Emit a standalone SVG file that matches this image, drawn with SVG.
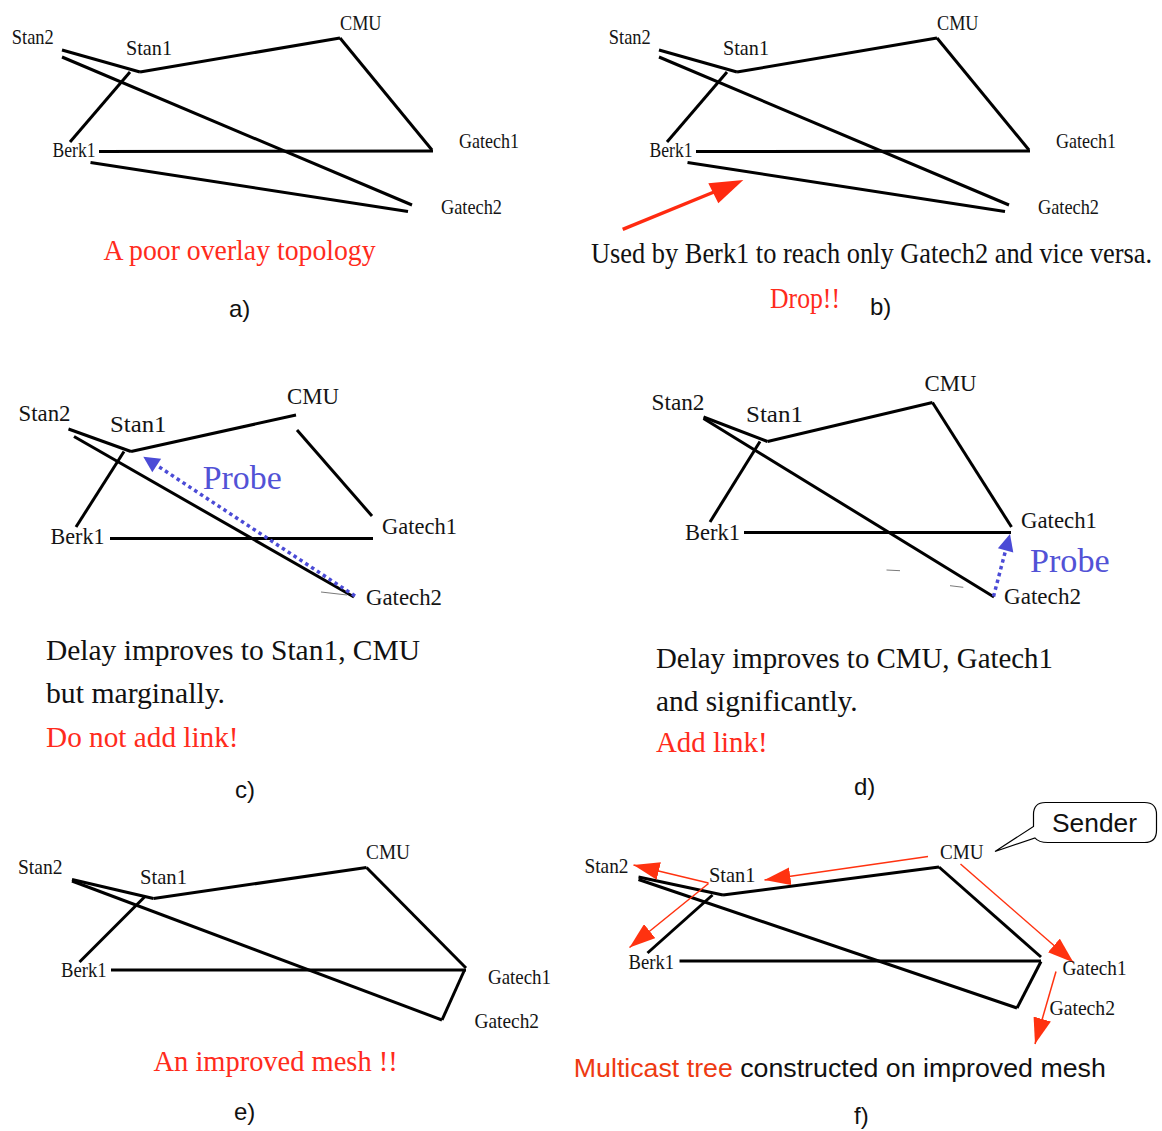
<svg xmlns="http://www.w3.org/2000/svg" width="1162" height="1131" viewBox="0 0 1162 1131">
  <style>
    .lbl { font-family: "Liberation Serif", "Times New Roman", serif; fill: #141414; }
    .f20 { font-size: 21px; }
    .f21 { font-size: 22px; }
    .f22 { font-size: 23px; }
    .cap { font-family: "Liberation Serif", "Times New Roman", serif; font-size: 29px; fill: #111; }
    .red { fill: #ff2b1c; }
    .tag { font-family: "Liberation Sans", Arial, sans-serif; font-size: 24px; fill: #111; }
    .sans { font-family: "Liberation Sans", Arial, sans-serif; fill: #111; }
    .probe { font-family: "Liberation Serif", "Times New Roman", serif; font-size: 33px; fill: #5252d6; }
    .edge { stroke: #000; stroke-width: 3; fill: none; }
    .dots { stroke: #4b4bd6; stroke-width: 3.5; stroke-dasharray: 3.5 3.5; fill: none; }
    .head-blue { fill: #4b4bd6; }
    .smudge { stroke: #7a7a7a; stroke-width: 1; fill: none; }
    .tree { stroke: #ff3210; stroke-width: 1.5; fill: none; marker-end: url(#treeHead); }
  </style>
  <defs>
    <marker id="treeHead" viewBox="0 0 26 18" refX="26" refY="9" markerWidth="26" markerHeight="18" markerUnits="userSpaceOnUse" orient="auto">
      <path d="M0,0 L26,9 L0,18 Z" fill="#ff3210"/>
    </marker>
  </defs>
  <rect width="1162" height="1131" fill="#fff"/>

  <!-- ===== a) poor overlay topology ===== -->
  <g id="panel-a">
    <g id="a-edges">
      <path class="edge" d="M62,50 L140,72"/>
      <path class="edge" d="M62,57 L412,205"/>
      <path class="edge" d="M140,72 L340,38"/>
      <path class="edge" d="M340,38 L432,150"/>
      <path class="edge" d="M99,151.5 L433,151"/>
      <path class="edge" d="M90.5,162.5 L408,211.5"/>
      <path class="edge" d="M130,72 L70,142"/>
    </g>
    <g id="a-stan2"><text class="lbl f21" x="11.8" y="44" textLength="42" lengthAdjust="spacingAndGlyphs">Stan2</text></g>
    <g id="a-stan1"><text class="lbl f21" x="126" y="55" textLength="46" lengthAdjust="spacingAndGlyphs">Stan1</text></g>
    <g id="a-cmu"><text class="lbl f21" x="340" y="29.5" textLength="41.5" lengthAdjust="spacingAndGlyphs">CMU</text></g>
    <g id="a-gatech1"><text class="lbl f21" x="459" y="147.5" textLength="60" lengthAdjust="spacingAndGlyphs">Gatech1</text></g>
    <g id="a-berk1"><text class="lbl f21" x="52.5" y="157" textLength="43" lengthAdjust="spacingAndGlyphs">Berk1</text></g>
    <g id="a-gatech2"><text class="lbl f21" x="441" y="213.5" textLength="61" lengthAdjust="spacingAndGlyphs">Gatech2</text></g>
    <text class="cap red" font-size="31" x="103.6" y="260" textLength="272" lengthAdjust="spacingAndGlyphs">A poor overlay topology</text>
    <text class="tag" x="229" y="317">a)</text>
  </g>

  <!-- ===== b) link to drop ===== -->
  <g id="panel-b">
    <g id="b-edges" transform="translate(597,0)">
      <path class="edge" d="M62,50 L140,72"/>
      <path class="edge" d="M62,57 L412,205"/>
      <path class="edge" d="M140,72 L340,38"/>
      <path class="edge" d="M340,38 L432,150"/>
      <path class="edge" d="M99,151.5 L433,151"/>
      <path class="edge" d="M90.5,162.5 L408,211.5"/>
      <path class="edge" d="M130,72 L70,142"/>
    </g>
    <g id="b-pointer">
      <path d="M622.7,229.3 L714,192" stroke="#ff2a10" stroke-width="3.5" fill="none"/>
      <polygon points="743.3,180 708.3,183.3 718.3,203.3" fill="#ff2a10"/>
    </g>
    <g id="b-stan2"><text class="lbl f21" x="608.8" y="44" textLength="42" lengthAdjust="spacingAndGlyphs">Stan2</text></g>
    <g id="b-stan1"><text class="lbl f21" x="723" y="55" textLength="46" lengthAdjust="spacingAndGlyphs">Stan1</text></g>
    <g id="b-cmu"><text class="lbl f21" x="937" y="29.5" textLength="41.5" lengthAdjust="spacingAndGlyphs">CMU</text></g>
    <g id="b-gatech1"><text class="lbl f21" x="1056" y="147.5" textLength="60" lengthAdjust="spacingAndGlyphs">Gatech1</text></g>
    <g id="b-berk1"><text class="lbl f21" x="649.5" y="157" textLength="43" lengthAdjust="spacingAndGlyphs">Berk1</text></g>
    <g id="b-gatech2"><text class="lbl f21" x="1038" y="213.5" textLength="61" lengthAdjust="spacingAndGlyphs">Gatech2</text></g>
    <!-- long caption: narrowed with a horizontal scale -->
    <g transform="translate(591,263.3) scale(0.91,1)">
      <text class="cap" font-size="31" x="0" y="0">Used by Berk1 to reach only Gatech2 and vice versa.</text>
    </g>
    <text class="cap red" font-size="31" x="770" y="308" textLength="70" lengthAdjust="spacingAndGlyphs">Drop!!</text>
    <text class="tag" x="870" y="315">b)</text>
  </g>

  <!-- ===== c) probe to Stan1 ===== -->
  <g id="panel-c">
    <g id="c-edges">
      <path class="edge" d="M68.5,429 L131,451.5"/>
      <path class="edge" d="M74,436.5 L354,597"/>
      <path class="edge" d="M131,451.5 L296,415"/>
      <path class="edge" d="M297,430 L372,516"/>
      <path class="edge" d="M110,538.5 L373,538.5"/>
      <path class="edge" d="M124,451.5 L76,527"/>
      <path class="smudge" d="M321,592 L347,595"/>
      <path class="dots" d="M355,596 L157,465.5"/>
      <polygon class="head-blue" points="143.3,456.7 152.3,472.2 161.1,458.8"/>
    </g>
    <g id="c-stan2"><text class="lbl f22" x="18.5" y="421" textLength="52" lengthAdjust="spacingAndGlyphs">Stan2</text></g>
    <g id="c-stan1"><text class="lbl f22" x="110" y="432" textLength="56.5" lengthAdjust="spacingAndGlyphs">Stan1</text></g>
    <g id="c-cmu"><text class="lbl f22" x="287" y="403.5" textLength="52" lengthAdjust="spacingAndGlyphs">CMU</text></g>
    <g id="c-gatech1"><text class="lbl f22" x="382" y="533.5" textLength="75" lengthAdjust="spacingAndGlyphs">Gatech1</text></g>
    <g id="c-berk1"><text class="lbl f22" x="50.5" y="544" textLength="54" lengthAdjust="spacingAndGlyphs">Berk1</text></g>
    <g id="c-gatech2"><text class="lbl f22" x="366" y="605" textLength="76" lengthAdjust="spacingAndGlyphs">Gatech2</text></g>
    <text class="probe" x="202.7" y="488.8" textLength="79" lengthAdjust="spacingAndGlyphs">Probe</text>
    <text class="cap" x="46" y="660" textLength="374" lengthAdjust="spacingAndGlyphs">Delay improves to Stan1, CMU</text>
    <text class="cap" x="46" y="703.3" textLength="179" lengthAdjust="spacingAndGlyphs">but marginally.</text>
    <text class="cap red" x="46" y="746.7" textLength="192.6" lengthAdjust="spacingAndGlyphs">Do not add link!</text>
    <text class="tag" x="235" y="798">c)</text>
  </g>

  <!-- ===== d) probe to Gatech1 ===== -->
  <g id="panel-d">
    <g id="d-edges">
      <path class="edge" d="M703.5,417 L767.5,441.5"/>
      <path class="edge" d="M703.5,418.5 L994,597"/>
      <path class="edge" d="M767.5,441.5 L932.5,402.5"/>
      <path class="edge" d="M932.5,402.5 L1011.5,527"/>
      <path class="edge" d="M744,532.5 L1011,532.5"/>
      <path class="edge" d="M760,441.5 L710,522"/>
      <path class="smudge" d="M886.5,570 L900,570.7"/>
      <path class="smudge" d="M950,585.7 L963.3,587.3"/>
      <path class="dots" d="M993.5,596.5 L1005.6,550.4"/>
      <polygon class="head-blue" points="1010,534 1013.3,552.5 997.9,548.3"/>
    </g>
    <g id="d-stan2"><text class="lbl f22" x="651.5" y="409.5" textLength="53" lengthAdjust="spacingAndGlyphs">Stan2</text></g>
    <g id="d-stan1"><text class="lbl f22" x="746" y="422" textLength="57" lengthAdjust="spacingAndGlyphs">Stan1</text></g>
    <g id="d-cmu"><text class="lbl f22" x="924.5" y="391" textLength="52" lengthAdjust="spacingAndGlyphs">CMU</text></g>
    <g id="d-gatech1"><text class="lbl f22" x="1021" y="527.5" textLength="76" lengthAdjust="spacingAndGlyphs">Gatech1</text></g>
    <g id="d-berk1"><text class="lbl f22" x="685" y="540" textLength="55" lengthAdjust="spacingAndGlyphs">Berk1</text></g>
    <g id="d-gatech2"><text class="lbl f22" x="1004" y="604" textLength="77" lengthAdjust="spacingAndGlyphs">Gatech2</text></g>
    <text class="probe" x="1030" y="571.7" textLength="79.7" lengthAdjust="spacingAndGlyphs">Probe</text>
    <text class="cap" x="656" y="668.3" textLength="397" lengthAdjust="spacingAndGlyphs">Delay improves to CMU, Gatech1</text>
    <text class="cap" x="656" y="710.7" textLength="201.7" lengthAdjust="spacingAndGlyphs">and significantly.</text>
    <text class="cap red" x="656" y="751.7" textLength="111.5" lengthAdjust="spacingAndGlyphs">Add link!</text>
    <text class="tag" x="854" y="795">d)</text>
  </g>

  <!-- ===== e) improved mesh ===== -->
  <g id="panel-e">
    <g id="e-edges">
      <path class="edge" d="M72,879.5 L153.5,898.5"/>
      <path class="edge" d="M72,881 L442,1020"/>
      <path class="edge" d="M153.5,898.5 L366.5,867.5"/>
      <path class="edge" d="M366.5,867.5 L466,968"/>
      <path class="edge" d="M111,970 L466,970"/>
      <path class="edge" d="M464.5,970 L442,1020"/>
      <path class="edge" d="M144.5,897 L79.5,962"/>
    </g>
    <g id="e-stan2"><text class="lbl f20" x="18" y="873.5" textLength="44.5" lengthAdjust="spacingAndGlyphs">Stan2</text></g>
    <g id="e-stan1"><text class="lbl f20" x="140" y="883.5" textLength="47" lengthAdjust="spacingAndGlyphs">Stan1</text></g>
    <g id="e-cmu"><text class="lbl f20" x="366" y="858.5" textLength="44" lengthAdjust="spacingAndGlyphs">CMU</text></g>
    <g id="e-gatech1"><text class="lbl f20" x="488" y="983.5" textLength="63" lengthAdjust="spacingAndGlyphs">Gatech1</text></g>
    <g id="e-berk1"><text class="lbl f20" x="61" y="977" textLength="45.5" lengthAdjust="spacingAndGlyphs">Berk1</text></g>
    <g id="e-gatech2"><text class="lbl f20" x="474.5" y="1027.5" textLength="64.5" lengthAdjust="spacingAndGlyphs">Gatech2</text></g>
    <text class="cap red" font-size="30" x="153.5" y="1070.7" textLength="244.2" lengthAdjust="spacingAndGlyphs">An improved mesh !!</text>
    <text class="tag" x="234" y="1120">e)</text>
  </g>

  <!-- ===== f) multicast tree on the improved mesh ===== -->
  <g id="panel-f">
    <g id="f-edges">
      <path class="edge" d="M638.5,877 L723,895"/>
      <path class="edge" d="M638.5,879.5 L1017,1008"/>
      <path class="edge" d="M723,895 L939,867"/>
      <path class="edge" d="M939,867 L1041,957"/>
      <path class="edge" d="M679.5,961 L1041,961"/>
      <path class="edge" d="M1041,961.5 L1017,1008"/>
      <path class="edge" d="M712.5,895 L647.5,953"/>
    </g>
    <g id="f-tree">
      <path class="tree" d="M928,856.5 L764.5,880"/>
      <path class="tree" d="M708.5,883 L633.5,865"/>
      <path class="tree" d="M708.5,883.5 L629.5,947.5"/>
      <path class="tree" d="M960.5,864 L1073.5,962.5"/>
      <path class="tree" d="M1056,971.5 L1035,1044"/>
    </g>
    <g id="f-sender">
      <path d="M1045.5,802.5 H1144.5 Q1156.5,802.5 1156.5,814.5 V830.5 Q1156.5,842.5 1144.5,842.5 H1048 Q1038.5,842.5 1035,838 L995,851.5 L1033.5,826.5 V814.5 Q1033.5,802.5 1045.5,802.5 Z" fill="#fff" stroke="#000" stroke-width="1.2"/>
      <text class="sans" font-size="25" x="1052" y="831.5" textLength="85" lengthAdjust="spacingAndGlyphs">Sender</text>
    </g>
    <g id="f-stan2"><text class="lbl f20" x="584.5" y="872.5" textLength="44" lengthAdjust="spacingAndGlyphs">Stan2</text></g>
    <g id="f-stan1"><text class="lbl f20" x="709" y="881.5" textLength="46.5" lengthAdjust="spacingAndGlyphs">Stan1</text></g>
    <g id="f-cmu"><text class="lbl f20" x="940" y="859" textLength="43.5" lengthAdjust="spacingAndGlyphs">CMU</text></g>
    <g id="f-gatech1"><text class="lbl f20" x="1062.5" y="974.5" textLength="64" lengthAdjust="spacingAndGlyphs">Gatech1</text></g>
    <g id="f-berk1"><text class="lbl f20" x="628.5" y="968.5" textLength="45.5" lengthAdjust="spacingAndGlyphs">Berk1</text></g>
    <g id="f-gatech2"><text class="lbl f20" x="1049.5" y="1015" textLength="65.5" lengthAdjust="spacingAndGlyphs">Gatech2</text></g>
    <text class="sans" font-size="26.5" x="573.8" y="1076.7" textLength="532" lengthAdjust="spacingAndGlyphs"><tspan fill="#ee3a12">Multicast tree</tspan> constructed on improved mesh</text>
    <text class="tag" x="854" y="1124">f)</text>
  </g>
</svg>
